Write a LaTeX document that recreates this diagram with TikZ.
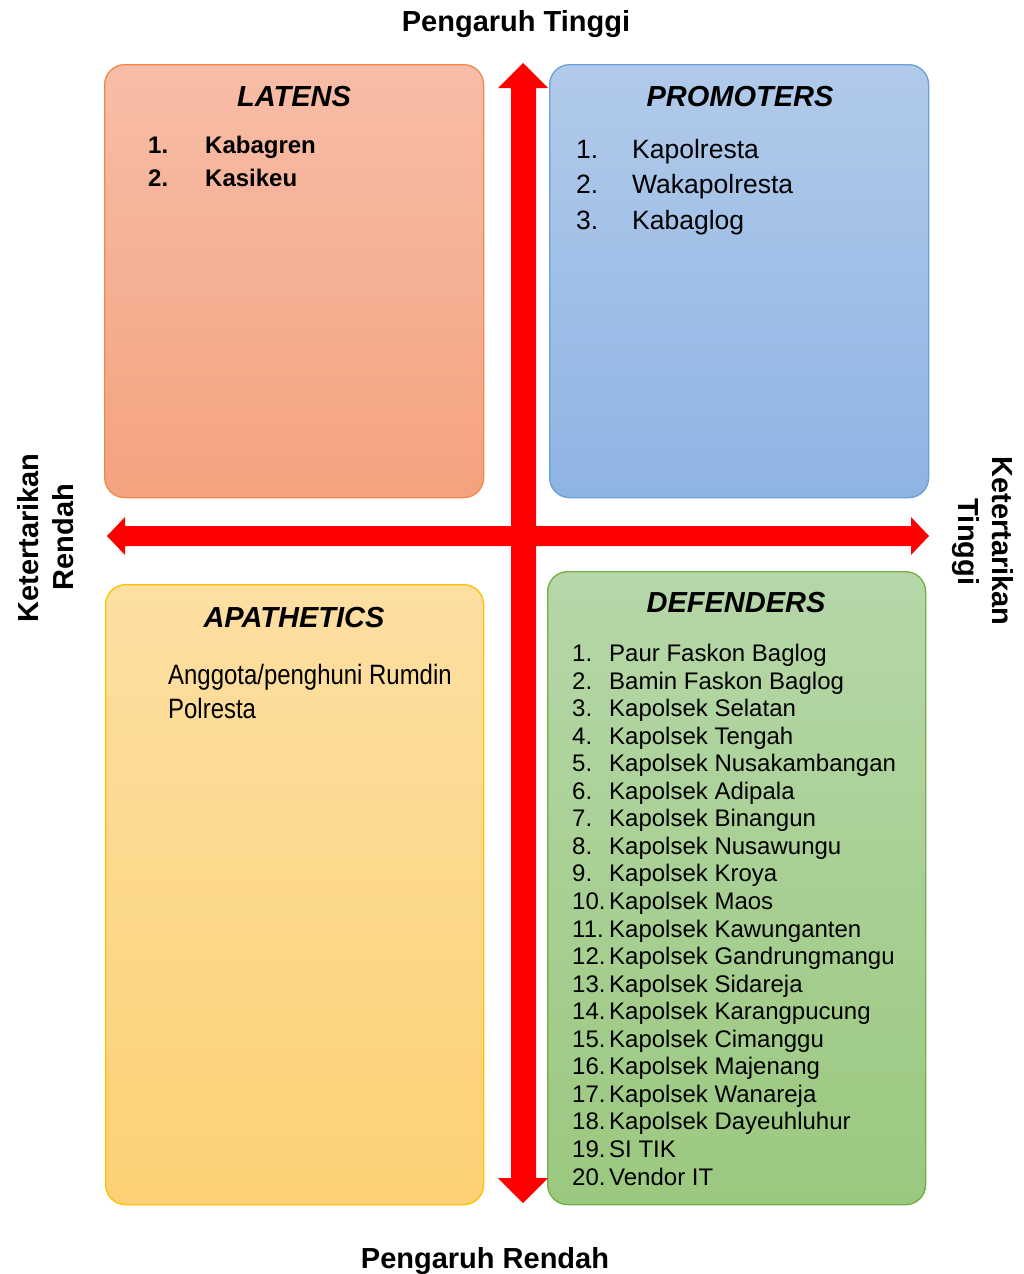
\documentclass[tikz,border=0pt]{standalone}
\usepackage{fontspec}
\setmainfont{Liberation Sans}
\newfontfamily\narrowfont[FakeStretch=0.855]{Liberation Sans}
\usetikzlibrary{positioning}
\definecolor{latensTop}{HTML}{F7BDA6}
\definecolor{latensBot}{HTML}{F4A27F}
\definecolor{latensLine}{HTML}{F08A4B}
\definecolor{promoTop}{HTML}{B1CAEA}
\definecolor{promoBot}{HTML}{8EB4E3}
\definecolor{promoLine}{HTML}{6A9FD8}
\definecolor{apaTop}{HTML}{FDDFA2}
\definecolor{apaBot}{HTML}{FCD175}
\definecolor{apaLine}{HTML}{FFC000}
\definecolor{defTop}{HTML}{B6D7A8}
\definecolor{defBot}{HTML}{9BC87F}
\definecolor{defLine}{HTML}{70AD47}
\tikzset{%
    quadrant/.style={rounded corners=20pt, line width=1.3pt, anchor=north west},
    quadtitle/.style={font=\fontsize{29}{34}\selectfont\bfseries\itshape, anchor=base, inner sep=0pt},
    axislabel/.style={font=\fontsize{29}{34}\selectfont\bfseries, anchor=base, inner sep=0pt},
    itembold/.style={font=\fontsize{24}{28}\selectfont\bfseries, anchor=base west, inner sep=0pt},
    itemplain/.style={font=\fontsize{26.5}{32}\selectfont, anchor=base west, inner sep=0pt},
    itemsmall/.style={font=\fontsize{24}{28}\selectfont, anchor=base west, inner sep=0pt}
}

\begin{document}
\begin{tikzpicture}[x=1pt, y=-1pt]
  \useasboundingbox (0,0) rectangle (1023,1274);

  % the four quadrants
  \node[quadrant, draw=latensLine, top color=latensTop, bottom color=latensBot,
        minimum width=379pt, minimum height=433pt] (latens) at (104,64) {};
  \node[quadrant, draw=promoLine, top color=promoTop, bottom color=promoBot,
        minimum width=379pt, minimum height=433pt] (promoters) at (549,64) {};
  \node[quadrant, draw=apaLine, top color=apaTop, bottom color=apaBot,
        minimum width=378pt, minimum height=620pt] (apathetics) at (105,584) {};
  \node[quadrant, draw=defLine, top color=defTop, bottom color=defBot,
        minimum width=378pt, minimum height=633pt] (defenders) at (547,571) {};

  % red axes
  \fill[red] (523,63) -- (548,88) -- (536,88) -- (536,1178) -- (548,1178)
    -- (523,1203) -- (498,1178) -- (511,1178) -- (511,88) -- (498,88) -- cycle;
  \fill[red] (107,536) -- (125,517) -- (125,526) -- (911,526) -- (911,517)
    -- (929,536) -- (911,555) -- (911,546) -- (125,546) -- (125,555) -- cycle;

  % axis labels
  \node[axislabel] (highInfluence) at (516,31) {Pengaruh Tinggi};
  \node[axislabel] (lowInfluence) at (485,1268) {Pengaruh Rendah};
  \node[axislabel, rotate=90] (lowInterestA) at (38,538) {Ketertarikan};
  \node[axislabel, rotate=90] (lowInterestB) at (73,537) {Rendah};
  \node[axislabel, rotate=-90] (highInterestA) at (992,541) {Ketertarikan};
  \node[axislabel, rotate=-90] (highInterestB) at (958,542) {Tinggi};

  % titles
  \node[quadtitle] (latensTitle) at (294,106) {LATENS};
  \node[quadtitle] (promotersTitle) at (740,106) {PROMOTERS};
  \node[quadtitle] (apatheticsTitle) at (294,627) {APATHETICS};
  \node[quadtitle] (defendersTitle) at (736,612) {DEFENDERS};

  % latens
  \node[itembold] (latensNumA) at (148,153) {1.};
  \node[itembold] (latensItemA) at (205,153) {Kabagren};
  \node[itembold] (latensNumB) at (148,186) {2.};
  \node[itembold] (latensItemB) at (205,186) {Kasikeu};

  % promoters
  \foreach \name [count=\i] in {Kapolresta, Wakapolresta, Kabaglog} {
    \node[itemplain] (promoNum\i) at (576,{122.5+35.5*\i}) {\i.};
    \node[itemplain] (promoItem\i) at (632,{122.5+35.5*\i}) {\name};
  }

  % apathetics
  \node[font=\narrowfont\fontsize{28}{34}\selectfont, anchor=base west, inner sep=0pt]
    (apaLineA) at (168,684) {Anggota/penghuni Rumdin};
  \node[font=\narrowfont\fontsize{28}{34}\selectfont, anchor=base west, inner sep=0pt]
    (apaLineB) at (168,718) {Polresta};

  % defenders
  \foreach \name [count=\i] in {Paur Faskon Baglog, Bamin Faskon Baglog,
      Kapolsek Selatan, Kapolsek Tengah, Kapolsek Nusakambangan,
      Kapolsek Adipala, Kapolsek Binangun, Kapolsek Nusawungu,
      Kapolsek Kroya, Kapolsek Maos, Kapolsek Kawunganten,
      Kapolsek Gandrungmangu, Kapolsek Sidareja, Kapolsek Karangpucung,
      Kapolsek Cimanggu, Kapolsek Majenang, Kapolsek Wanareja,
      Kapolsek Dayeuhluhur, SI TIK, Vendor IT} {
    \node[itemsmall] (defNum\i) at (572,{634+27.55*\i}) {\i.};
    \node[itemsmall] (defItem\i) at (609,{634+27.55*\i}) {\name};
  }
\end{tikzpicture}
\end{document}
